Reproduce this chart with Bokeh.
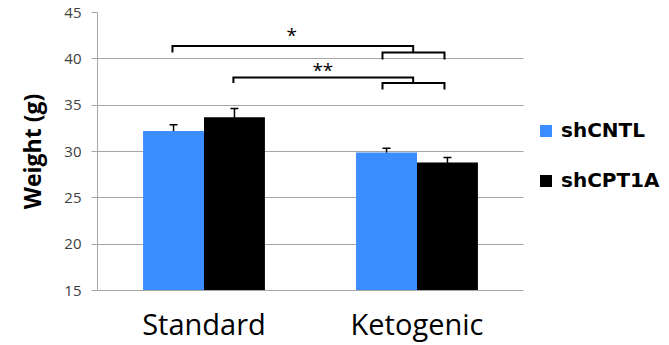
from bokeh.plotting import figure
from bokeh.models import (ColumnDataSource, Range1d, Whisker, TeeHead,
                          FixedTicker, Legend, LegendItem)
from bokeh.core.properties import value
from bokeh.embed import file_html
from bokeh.resources import INLINE

# ---- data ----
diets = ["Standard", "Ketogenic"]
series = ["shCNTL", "shCPT1A"]
shCNTL = [32.2, 29.9]
shCNTL_err = [0.68, 0.45]
shCPT1A = [33.7, 28.8]
shCPT1A_err = [0.93, 0.55]
colors = ["#3A8CFF", "#000000"]
y_ticks = [15, 20, 25, 30, 35, 40, 45]

# significance brackets (x in category-axis units, y in grams)
brk_xs = [[0.352, 0.352, 1.482, 1.482], [1.338, 1.338, 1.629, 1.629],
          [0.638, 0.638, 1.482, 1.482], [1.338, 1.338, 1.629, 1.629]]
brk_ys = [[40.68, 41.39, 41.39, 40.68], [39.92, 40.68, 40.68, 39.92],
          [37.40, 37.98, 37.98, 37.40], [36.68, 37.40, 37.40, 36.68]]
stars = ["*", "**"]
star_x = [0.912, 1.058]
star_y = [42.58, 38.80]

bar_w = 0.286
off = bar_w / 2
centers = [i + 0.5 for i in range(len(diets))]
n_cat = len(diets)

src = ColumnDataSource(dict(
    xc=[c - off for c in centers], xk=[c + off for c in centers],
    cntl=shCNTL, cntl_lo=[v - e for v, e in zip(shCNTL, shCNTL_err)],
    cntl_hi=[v + e for v, e in zip(shCNTL, shCNTL_err)],
    cpt=shCPT1A, cpt_lo=[v - e for v, e in zip(shCPT1A, shCPT1A_err)],
    cpt_hi=[v + e for v, e in zip(shCPT1A, shCPT1A_err)],
))

# frame spans the category area plus room on the right for the legend
FRAME_L, FRAME_R, CAT_R = 97, 669, 523
x_end = n_cat * (FRAME_R - FRAME_L) / (CAT_R - FRAME_L)

p = figure(x_range=Range1d(0, x_end), y_range=Range1d(15, 45),
           width=669, height=345, output_backend="svg", toolbar_location=None,
           min_border_left=FRAME_L, min_border_right=0, min_border_top=12,
           min_border_bottom=55)

r1 = p.vbar(x="xc", top="cntl", bottom=15, width=bar_w,
            source=src, fill_color=colors[0], line_color=None)
r2 = p.vbar(x="xk", top="cpt", bottom=15, width=bar_w,
            source=src, fill_color=colors[1], line_color=None)

for col, xcol in (("cntl", "xc"), ("cpt", "xk")):
    w = Whisker(base=xcol, lower=col + "_lo", upper=col + "_hi",
                source=src, line_color="black", line_width=1.5,
                upper_head=TeeHead(size=8, line_width=1.5, line_color="black"),
                lower_head=TeeHead(size=8, line_width=1.5, line_color="black"))
    p.add_layout(w)

p.multi_line(xs=brk_xs, ys=brk_ys, line_color="black", line_width=2,
             line_join="miter")
p.text(x=star_x, y=star_y, text=stars, text_font=value("Open Sans"),
       text_font_size="19px", text_align="center", text_baseline="middle",
       text_color="black")

legend = Legend(items=[LegendItem(label=series[0], renderers=[r1]),
                       LegendItem(label=series[1], renderers=[r2])],
                location=(441, 98), padding=0, margin=0, spacing=26,
                glyph_width=15, glyph_height=15, label_height=20, label_standoff=8,
                label_text_font="DejaVu Sans", label_text_font_style="bold",
                label_text_font_size="20px", label_text_color="black",
                border_line_color=None, background_fill_alpha=0)
p.add_layout(legend)

# axes / grid
p.yaxis.ticker = FixedTicker(ticks=y_ticks)
p.yaxis.axis_label = "Weight (g)"
p.yaxis.axis_label_text_font = "Open Sans"
p.yaxis.axis_label_text_font_style = "bold"
p.yaxis.axis_label_text_font_size = "23px"
p.yaxis.axis_label_text_color = "black"
p.yaxis.axis_label_standoff = 13
p.yaxis.major_label_text_font = "Open Sans"
p.yaxis.major_label_text_font_size = "15px"
p.yaxis.major_label_text_color = "#404040"
p.yaxis.major_label_standoff = 10
p.yaxis.major_tick_out = 6
p.yaxis.major_tick_in = 0
p.yaxis.minor_tick_out = 0
p.yaxis.minor_tick_in = 0
p.yaxis.axis_line_color = "#A6A6A6"
p.yaxis.major_tick_line_color = "#A6A6A6"

p.xaxis.ticker = FixedTicker(ticks=centers)
p.xaxis.major_label_overrides = {c: d for c, d in zip(centers, diets)}
p.xaxis.bounds = (0, n_cat)
p.xaxis.major_label_text_font = "Open Sans"
p.xaxis.major_label_text_font_size = "29px"
p.xaxis.major_label_text_color = "black"
p.xaxis.major_label_standoff = 7
p.xaxis.major_tick_line_color = None
p.xaxis.minor_tick_line_color = None
p.xaxis.axis_line_color = "#A6A6A6"

p.xgrid.grid_line_color = None
p.ygrid.grid_line_color = "#A6A6A6"
p.ygrid.cross_bounds = (0, n_cat)
p.outline_line_color = None
p.background_fill_color = "white"
p.border_fill_color = "white"

open("out.html", "w").write(file_html(p, INLINE))
